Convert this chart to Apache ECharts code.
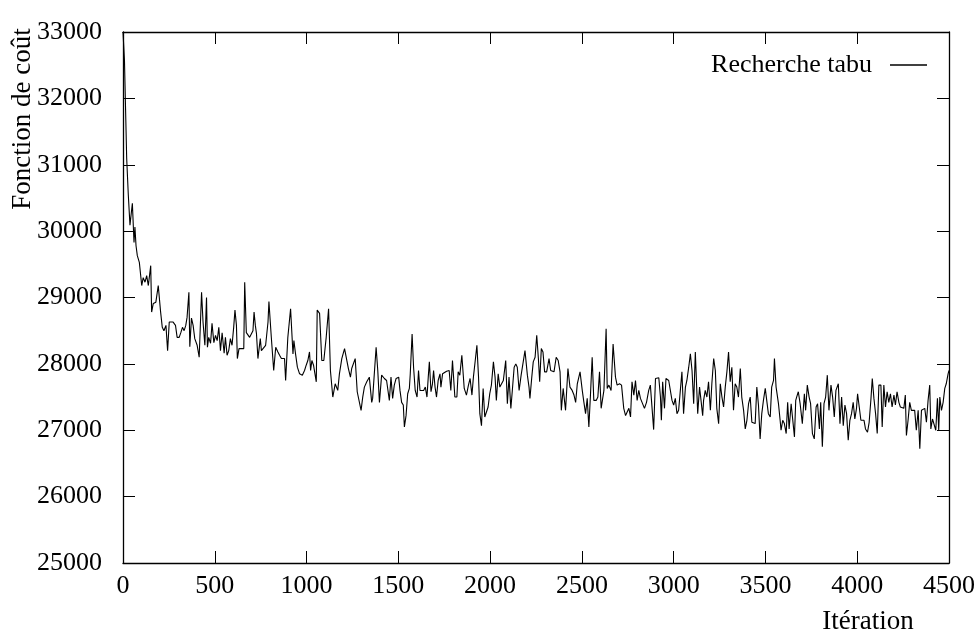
<!DOCTYPE html>
<html><head><meta charset="utf-8">
<script src="https://cdn.jsdelivr.net/npm/echarts@6/dist/echarts.min.js"></script>
<style>html,body{margin:0;padding:0;background:#fff}#c{width:978px;height:641px}</style>
</head><body><div id="c"></div>
<script>
const seriesName = 'Recherche tabu';
const xAxisTitle = 'Itération';
const yAxisTitle = 'Fonction de coût';
const xTickValues = [0, 500, 1000, 1500, 2000, 2500, 3000, 3500, 4000, 4500];
const yTickValues = [25000, 26000, 27000, 28000, 29000, 30000, 31000, 32000, 33000];

const iterations = [
0,8,20,29,38,51,60,65,71,78,89,102,110,120,129,138,151,156,165,179,192,205,214,223,234,243,252,261,273,286,295,306,315,324,333,342,349,359,364,373,382,391,404,415,428,436,446,455,460,467,477,485,495,504,513,522,531,540,551,558,567,576,585,594,603,610,618,623,632,645,658,663,672,681,690,699,708,714,721,727,735,748,754,763,777,790,795,
808,821,832,844,853,863,871,880,886,898,913,926,931,940,950,962,977,989,998,1007,1016,1022,1029,1038,1044,1053,1058,1071,1083,1094,1107,1120,1130,1143,1156,1170,1179,1192,1207,1216,1228,1239,1246,1256,1265,1276,1284,1297,1306,1315,1328,1342,1355,1360,1370,1379,1388,1397,1409,1424,1436,1451,1460,1469,1478,1488,1502,
1509,1518,1527,1533,1542,1551,1560,1565,1575,1583,1592,1602,1610,1618,1627,1638,1647,1656,1663,1669,1678,1686,1692,1700,1708,1717,1727,1732,1741,1750,1763,1777,1786,1795,1808,1819,1826,1835,1846,1859,1871,1882,1891,1901,1909,1919,1928,1937,1944,1953,1962,1971,1980,1989,1998,2007,2018,2027,2034,2044,2053,2061,2072,2085,2094,2103,2113,2121,2131,2140,2148,2158,2169,2179,2190,2203,2212,
2217,2227,2235,2245,2254,2263,2270,2279,2288,2297,2308,2321,2330,2339,2348,2360,2371,2381,2388,2398,2411,2424,2435,2447,2457,2466,2475,2490,2502,2511,2520,2529,2538,2547,2556,2565,2578,2587,2596,2605,2620,2632,2638,2647,2659,2670,2683,2692,2705,2716,2728,2738,2746,2756,2765,2773,2783,2792,2801,2810,2819,2828,2841,2852,2864,2873,2882,2891,2901,
2919,2928,2933,2940,2950,2958,2973,2982,2991,3000,3009,3018,3027,3037,3045,3054,3064,3072,3082,3091,3100,3109,3118,3131,3141,3149,3158,3163,3172,3181,3190,3200,3208,3218,3227,3235,3245,3254,3263,3272,3281,3290,3299,3308,3317,3326,3335,3344,3353,3363,3371,3381,3390,3399,3408,3417,3426,3435,3444,3453,3462,3471,3480,3489,3499,3507,3516,3526,3534,3544,3549,3558,3571,3580,3585,3594,3603,3613,3621,3629,3640,3649,3658,3665,
3670,3679,3689,3701,3712,3719,3728,3738,3746,3756,3766,3776,3784,3794,3801,3810,3819,3828,3837,3846,3857,3866,3875,3884,3897,3906,3915,3924,3933,3942,3951,3960,3969,3978,3987,3996,4002,4011,4020,4027,4037,4045,4056,4065,4075,4082,4091,4100,4109,4118,4129,4136,4145,4154,4163,4172,4181,4190,4200,4208,4217,4227,4235,4245,4254,4262,4268,4277,4286,4295,4304,4313,4322,4332,4341,4350,4359,4368,4377,4386,4395,4401,4410,4419,4428,4437,4444,4450,4459,4468,4477,4485,4495,4500
];

const costs = [
33000,32570,31100,30540,30090,30420,29830,30060,29780,29630,29530,29180,29300,29230,29330,29180,29480,28780,28910,28930,29180,28780,28550,28500,28580,28200,28630,28610,28630,28580,28400,28400,28470,28550,28500,28580,28700,29080,28260,28690,28580,28380,28280,28100,29080,28630,28280,29000,28250,28400,28310,28610,28320,28430,28350,28550,28200,28470,28160,28400,28130,28200,28380,28280,28550,28810,28580,28080,28230,28230,28230,29230,28470,28470,28400,28400,28500,28780,28580,28460,28080,28380,28200,28230,28280,28630,28940,
28400,27900,28250,28180,28130,28080,28100,28080,27750,28400,28830,28150,28350,28150,27950,27850,27830,27900,27980,28050,28180,27900,28050,27980,27880,27730,28810,28760,28050,28050,28400,28830,27900,27500,27700,27600,27850,28080,28230,28250,27930,27800,27930,27900,28080,27580,27550,27300,27500,27650,27730,27800,27420,27480,27500,28250,27900,27420,27830,27780,27750,27450,27800,27480,27680,27780,27800,
27600,27420,27380,27050,27220,27550,27630,27850,28450,27950,27600,27500,27900,27600,27630,27600,27650,27500,27800,28030,27580,27700,27900,27650,27500,27750,27850,27650,27850,27880,27890,27900,27600,28050,27500,27500,27880,27830,28130,27630,27530,27680,27780,27530,27800,28050,28280,27800,27250,27070,27630,27200,27170,27350,27550,27680,28030,27800,27450,27850,27650,27680,27750,28050,27400,27800,27330,27600,27950,28000,27950,27600,27830,27830,28200,27830,27650,
27480,27800,28030,28100,28430,28080,27730,28230,28180,27880,27880,28080,27900,27930,27880,28100,28050,27880,27300,27630,27300,27930,27650,27600,27530,27420,27700,27880,27600,27420,27250,27480,27050,27550,28100,27450,27450,27500,27880,27330,27600,28530,27630,27680,27600,28300,27800,27680,27700,27680,27330,27220,27270,27330,27200,27730,27530,27750,27450,27600,27480,27480,27330,27420,27600,27680,27680,27010,27780,
27790,27500,27150,27730,27330,27780,27750,27730,27450,27380,27480,27250,27300,27270,27880,27250,27650,27750,27950,28150,27900,27400,28180,27250,27650,27450,27220,27450,27600,27500,27730,27300,27700,28080,27900,27330,27100,27700,27500,27350,27650,27880,28180,27730,27950,27300,27700,27650,27500,27930,27500,27300,27020,27150,27400,27500,27120,27150,27100,27650,27380,26870,27250,27450,27630,27450,27250,27200,27650,27750,28080,27650,27400,27150,27000,27150,27100,26950,27420,27020,27400,27380,26900,27450,
27500,27580,27400,27100,27550,27300,27680,27500,27400,26950,26870,27350,27400,27020,27420,26750,27400,27500,27830,27300,27680,27500,27200,27600,27700,27100,27500,27070,27380,27250,26850,27150,27250,27420,27170,27330,27550,27350,27150,27170,27150,27020,26970,27120,27480,27780,27480,27250,26950,27680,27680,27050,27680,27350,27580,27420,27550,27350,27530,27380,27580,27420,27350,27330,27330,27530,26920,27150,27420,27300,27270,27300,27000,27300,26720,27300,27270,27330,27120,27450,27680,27020,27170,27150,27000,27480,27000,27500,27300,27420,27630,27700,27850,27900
];

const FONT = "'Liberation Serif', 'DejaVu Serif', serif";
const chart = echarts.init(document.getElementById('c'), null, {renderer: 'canvas'});
const data = iterations.map((it, i) => [it, costs[i]]);
const xMin = xTickValues[0], xMax = xTickValues[xTickValues.length - 1], xInt = xTickValues[1] - xTickValues[0];
const yMin = yTickValues[0], yMax = yTickValues[yTickValues.length - 1], yInt = yTickValues[1] - yTickValues[0];

const axisLine = {show: true, onZero: false, lineStyle: {color: '#000', width: 1.3}};
const axisTick = {show: true, inside: true, length: 12, lineStyle: {color: '#000', width: 1}};
const labelStyle = {color: '#000', fontFamily: FONT, fontSize: 26, formatter: v => String(v)};

chart.setOption({
  animation: false,
  backgroundColor: '#fff',
  grid: {left: 123, right: 27, top: 32, bottom: 78, containLabel: false},
  legend: {
    data: [seriesName], right: 51, top: 52, align: 'right', padding: 0,
    icon: 'rect', itemWidth: 37, itemHeight: 1.5,
    textStyle: {color: '#000', fontFamily: FONT, fontSize: 26, padding: [0, 13, 0, 0]}
  },
  xAxis: [
    {type: 'value', min: xMin, max: xMax, interval: xInt, position: 'bottom',
     axisLine, axisTick, splitLine: {show: false},
     axisLabel: Object.assign({margin: 10}, labelStyle)},
    {type: 'value', min: xMin, max: xMax, interval: xInt, position: 'top',
     axisLine, axisTick, splitLine: {show: false}, axisLabel: {show: false}}
  ],
  yAxis: [
    {type: 'value', min: yMin, max: yMax, interval: yInt, position: 'left',
     axisLine, axisTick, splitLine: {show: false},
     axisLabel: Object.assign({margin: 21}, labelStyle)},
    {type: 'value', min: yMin, max: yMax, interval: yInt, position: 'right',
     axisLine, axisTick, splitLine: {show: false}, axisLabel: {show: false}}
  ],
  graphic: [
    {type: 'text', x: 868, y: 622, style: {text: xAxisTitle, fill: '#000', font: '27px ' + FONT, align: 'center', verticalAlign: 'middle'}},
    {type: 'text', x: 23, y: 119, rotation: Math.PI / 2, style: {text: yAxisTitle, fill: '#000', font: '27px ' + FONT, align: 'center', verticalAlign: 'middle'}}
  ],
  series: [{
    name: seriesName, type: 'line', data, showSymbol: false, symbol: 'none',
    lineStyle: {color: '#000', width: 1.1}, itemStyle: {color: '#000'},
    clip: true
  }]
});
</script></body></html>
